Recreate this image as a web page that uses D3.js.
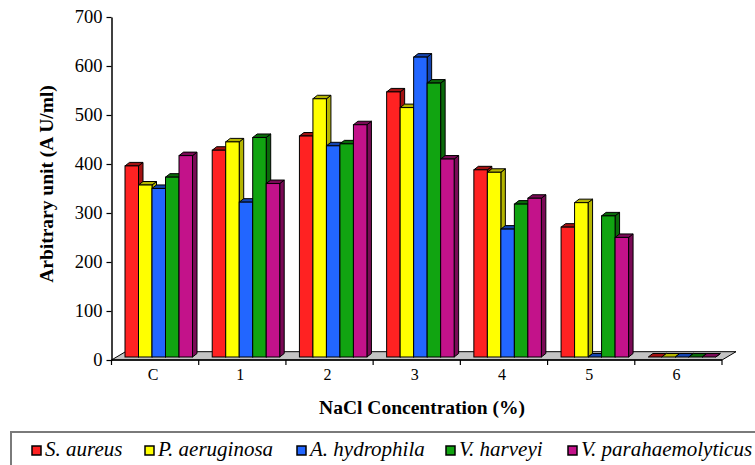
<!DOCTYPE html>
<html>
<head>
<meta charset="utf-8">
<script src="https://cdn.jsdelivr.net/npm/d3@7"></script>
<style>
  body { margin: 0; background: #fff; }
</style>
</head>
<body>
<div id="chart"></div>
<script>
var categories = ['C', '1', '2', '3', '4', '5', '6']
var seriesNames = ['S. aureus', 'P. aeruginosa', 'A. hydrophila', 'V. harveyi', 'V. parahaemolyticus']
var sAureus = [390, 422, 451, 541, 382, 265, 0]
var pAeruginosa = [351, 439, 527, 509, 377, 315, 0]
var aHydrophila = [344, 316, 431, 612, 261, 0, 0]
var vHarveyi = [367, 448, 435, 559, 312, 288, 0]
var vParahaemolyticus = [411, 354, 474, 404, 324, 244, 0]
var yTicks = [0, 100, 200, 300, 400, 500, 600, 700]

var seriesValues = [sAureus, pAeruginosa, aHydrophila, vHarveyi, vParahaemolyticus]
var fronts = ['#ff2222', '#ffff00', '#2266ff', '#11a411', '#c3128a']
var sides = ['#a31212', '#b5b500', '#1444b0', '#0a6a0a', '#7a0a56']

var SERIF = '"Liberation Serif", serif'

var width = 755
var height = 465
var margin = { left: 111.5, right: 33, top: 17, bottom: 105 }
var floorDepth = { dx: 14, dy: -8.3 }
var barDepth = { dx: 4.5, dy: -3.5 }
var barLift = 3

var svg = d3.select('#chart').append('svg')
  .attr('width', width)
  .attr('height', height)
  .attr('font-family', 'Liberation Serif')
  .style('font-family', SERIF)

var x0 = d3.scaleBand()
  .domain(categories)
  .range([margin.left, width - margin.right])

var x1 = d3.scaleBand()
  .domain(seriesNames)
  .range([13.5, 13.5 + 67.5])

var y = d3.scaleLinear()
  .domain([0, 700])
  .range([height - margin.bottom, margin.top])

var y0 = y(0)

function pts (arr) {
  return arr.map(function (p) { return p.join(',') }).join(' ')
}

// floor
var fl = margin.left
var fr = width - margin.right
svg.append('polygon')
  .attr('points', pts([
    [fl, y0], [fr, y0], [fr + floorDepth.dx, y0 + floorDepth.dy], [fl + floorDepth.dx, y0 + floorDepth.dy]
  ]))
  .attr('fill', '#c4c4c4')
  .attr('stroke', '#000')
  .attr('stroke-width', 1)

// bars
var bars = []
categories.forEach(function (c, i) {
  seriesNames.forEach(function (s, j) {
    bars.push({ cat: c, series: j, value: seriesValues[j][i] })
  })
})

var base = y0 - barLift
var bw = x1.bandwidth()
var g = svg.append('g').attr('class', 'data')

var bar = g.selectAll('g.bar')
  .data(bars)
  .enter().append('g')
  .attr('class', 'bar')

bar.each(function (d) {
  var el = d3.select(this)
  var bx = x0(d.cat) + x1(seriesNames[d.series])
  var top = y(d.value) - barLift
  el.append('polygon')
    .attr('points', pts([[bx + bw, top], [bx + bw + barDepth.dx, top + barDepth.dy],
      [bx + bw + barDepth.dx, base + barDepth.dy], [bx + bw, base]]))
    .attr('fill', sides[d.series])
    .attr('stroke', '#000')
    .attr('stroke-width', 1)
  el.append('polygon')
    .attr('points', pts([[bx, top], [bx + barDepth.dx, top + barDepth.dy],
      [bx + bw + barDepth.dx, top + barDepth.dy], [bx + bw, top]]))
    .attr('fill', sides[d.series])
    .attr('stroke', '#000')
    .attr('stroke-width', 1)
  if (d.value > 0) {
    el.append('rect')
      .attr('x', bx)
      .attr('y', top)
      .attr('width', bw)
      .attr('height', base - top)
      .attr('fill', fronts[d.series])
      .attr('stroke', '#000')
      .attr('stroke-width', 1)
  }
})

// y axis
var yAxis = svg.append('g')
  .attr('transform', 'translate(' + margin.left + ',0)')
  .call(d3.axisLeft(y).tickValues(yTicks).tickSize(5).tickSizeOuter(0).tickPadding(4))
yAxis.attr('font-family', null).attr('font-size', null)
yAxis.select('.domain').attr('stroke', '#000').attr('stroke-width', 1.5)
yAxis.selectAll('.tick line').attr('stroke', '#000').attr('stroke-width', 1.2)
yAxis.selectAll('.tick text')
  .style('font-family', SERIF)
  .style('font-size', '18.5px')
  .attr('fill', '#000')

// x axis
var xAxis = svg.append('g')
  .attr('transform', 'translate(0,' + y0 + ')')
xAxis.append('line')
  .attr('x1', fl).attr('x2', fr)
  .attr('y1', 0).attr('y2', 0)
  .attr('stroke', '#000').attr('stroke-width', 1.5)
xAxis.selectAll('line.tick')
  .data(categories.concat(['end']))
  .enter().append('line')
  .attr('class', 'tick')
  .attr('x1', function (d, i) { return i < categories.length ? x0(d) : fr })
  .attr('x2', function (d, i) { return i < categories.length ? x0(d) : fr })
  .attr('y1', 0).attr('y2', 5)
  .attr('stroke', '#000').attr('stroke-width', 1.2)
xAxis.selectAll('text')
  .data(categories)
  .enter().append('text')
  .attr('x', function (d) { return x0(d) + x0.bandwidth() / 2 - 2 })
  .attr('y', 20)
  .attr('text-anchor', 'middle')
  .style('font-family', SERIF)
  .style('font-size', '16px')
  .text(function (d) { return d })

// titles
svg.append('text')
  .attr('transform', 'translate(53,184) rotate(-90)')
  .attr('text-anchor', 'middle')
  .style('font-family', SERIF)
  .style('font-size', '19.5px')
  .style('font-weight', 'bold')
  .text('Arbitrary unit (A U/ml)')

svg.append('text')
  .attr('x', 422)
  .attr('y', 414)
  .attr('text-anchor', 'middle')
  .style('font-family', SERIF)
  .style('font-size', '19.5px')
  .style('font-weight', 'bold')
  .text('NaCl Concentration (%)')

// legend
svg.append('rect')
  .attr('x', 11).attr('y', 432)
  .attr('width', 770).attr('height', 50)
  .attr('fill', 'none')
  .attr('stroke', '#7a7a7a')
  .attr('stroke-width', 2)

var legendX = [32, 145, 297, 446, 568]
var legend = svg.selectAll('g.legend')
  .data(seriesNames)
  .enter().append('g')
  .attr('class', 'legend')
  .attr('transform', function (d, i) { return 'translate(' + legendX[i] + ',446)' })
legend.append('rect')
  .attr('width', 9).attr('height', 9)
  .attr('fill', function (d, i) { return fronts[i] })
  .attr('stroke', '#000')
  .attr('stroke-width', 1.5)
legend.append('text')
  .attr('x', 13).attr('y', 10)
  .style('font-family', SERIF)
  .style('font-size', '21px')
  .style('font-style', 'italic')
  .text(function (d) { return d })
</script>
</body>
</html>
